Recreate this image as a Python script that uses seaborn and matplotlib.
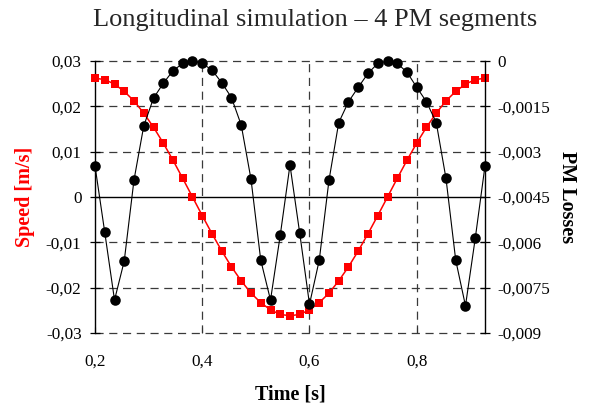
import matplotlib
matplotlib.use("Agg")
import matplotlib.pyplot as plt
import pandas as pd
import seaborn as sns

# ---- data ----
time_s = [0.2000, 0.2182, 0.2364, 0.2545, 0.2727, 0.2909, 0.3091, 0.3273, 0.3455, 0.3636,
          0.3818, 0.4000, 0.4182, 0.4364, 0.4545, 0.4727, 0.4909, 0.5091, 0.5273, 0.5455,
          0.5636, 0.5818, 0.6000, 0.6182, 0.6364, 0.6545, 0.6727, 0.6909, 0.7091, 0.7273,
          0.7455, 0.7636, 0.7818, 0.8000, 0.8182, 0.8364, 0.8545, 0.8727, 0.8909, 0.9091,
          0.9273]

speed = [0.0262, 0.0259, 0.0249, 0.0233, 0.0212, 0.0185, 0.0154, 0.0119, 0.0081, 0.0041,
         0.0000, -0.0041, -0.0081, -0.0119, -0.0154, -0.0185, -0.0212, -0.0233, -0.0249, -0.0259,
         -0.0262, -0.0259, -0.0249, -0.0233, -0.0212, -0.0185, -0.0154, -0.0119, -0.0081, -0.0041,
         0.0000, 0.0041, 0.0081, 0.0119, 0.0154, 0.0185, 0.0212, 0.0233, 0.0249, 0.0259,
         0.0262]

pm_losses = [-0.00347, -0.00567, -0.00791, -0.00662, -0.00394, -0.00215, -0.00123, -0.00074, -0.00032, -0.00008,
             0.00000, -0.00008, -0.00030, -0.00072, -0.00121, -0.00212, -0.00391, -0.00659, -0.00791, -0.00576,
             -0.00344, -0.00570, -0.00805, -0.00659, -0.00394, -0.00204, -0.00135, -0.00087, -0.00041, -0.00008,
             0.00000, -0.00008, -0.00037, -0.00087, -0.00135, -0.00204, -0.00388, -0.00659, -0.00810, -0.00587,
             -0.00347]

x_ticks = [0.2, 0.4, 0.6, 0.8]
x_tick_labels = ["0,2", "0,4", "0,6", "0,8"]
speed_ticks = [-0.03, -0.02, -0.01, 0.0, 0.01, 0.02, 0.03]
speed_tick_labels = ["-0,03", "-0,02", "-0,01", "0", "0,01", "0,02", "0,03"]
loss_ticks = [-0.009, -0.0075, -0.006, -0.0045, -0.003, -0.0015, 0.0]
loss_tick_labels = ["-0,009", "-0,0075", "-0,006", "-0,0045", "-0,003", "-0,0015", "0"]

title = "Longitudinal simulation \u2013 4 PM segments"

# ---- style ----
sns.set_style("white")
plt.rcParams["font.family"] = ["Liberation Serif", "DejaVu Serif"]

df = pd.DataFrame({"Time": time_s, "Speed": speed, "Loss": pm_losses})

W, H = 596, 405
fig = plt.figure(figsize=(W / 100, H / 100), dpi=100)
ax = fig.add_axes([95 / W, 72 / H, 390 / W, 272 / H])
ax2 = ax.twinx()

dash = (0, (6.5, 4.5))
grid_col = "#3a3a3a"

# grid
for y in speed_ticks:
    if y != 0:
        ax.axhline(y, color=grid_col, lw=0.9, ls=dash, zorder=0, clip_on=False)
for x in x_ticks[1:]:
    ax.axvline(x, color=grid_col, lw=0.9, ls=dash, zorder=0)
ax.axhline(0, color="black", lw=1.0, zorder=1)

sns.lineplot(data=df, x="Time", y="Speed", ax=ax, color="#ff0000", lw=1.1,
             marker="s", markersize=5.4, markeredgewidth=0, zorder=3, clip_on=False)
sns.lineplot(data=df, x="Time", y="Loss", ax=ax2, color="black", lw=0.8,
             marker="o", markersize=7.6, markeredgewidth=0, zorder=3, clip_on=False)

ax.set_xlim(time_s[0], time_s[-1])
ax.set_ylim(-0.03, 0.03)
ax2.set_ylim(-0.009, 0.0)

ax.set_xticks(x_ticks)
ax.set_xticklabels(x_tick_labels)
ax.set_yticks(speed_ticks)
ax.set_yticklabels(speed_tick_labels)
ax2.set_yticks(loss_ticks)
ax2.set_yticklabels(loss_tick_labels)

ax.set_xlabel("")
ax.set_ylabel("")
ax2.set_ylabel("")

for a in (ax, ax2):
    for s in a.spines.values():
        s.set_visible(False)
ax.spines["left"].set_visible(True)
ax.spines["left"].set_color("black")
ax.spines["left"].set_linewidth(1.0)
ax2.spines["right"].set_visible(True)
ax2.spines["right"].set_color("black")
ax2.spines["right"].set_linewidth(1.0)

ax.tick_params(axis="y", direction="inout", length=6.5, width=0.9, color="black",
               labelsize=12.3, pad=6.4, left=True, labelcolor="black")
ax2.tick_params(axis="y", direction="inout", length=6.5, width=0.9, color="black",
                labelsize=12.3, pad=6.0, right=True, labelcolor="black")
ax.tick_params(axis="x", direction="in", length=4.5, width=0.8, color="#333333",
               labelsize=12.3, pad=15.0, bottom=True, labelcolor="black")

# labels
fig.text(315.5 / W, 1 - 26 / H, title, ha="center", va="baseline", fontsize=19)
fig.text(25 / W, 1 - 197 / H, "Speed [m/s]", rotation=90, ha="center", va="center",
         fontsize=14.5, fontweight="bold", color="#ff0000")
fig.text(567 / W, 1 - 197 / H, "PM Losses", rotation=270, ha="center", va="center",
         fontsize=14.5, fontweight="bold", color="black")
fig.text(290 / W, 1 - 394 / H, "Time [s]", ha="center", va="center",
         fontsize=14.5, fontweight="bold", color="black")

if ax.get_legend():
    ax.get_legend().remove()
if ax2.get_legend():
    ax2.get_legend().remove()

fig.savefig("out.png", dpi=100, facecolor="white")
